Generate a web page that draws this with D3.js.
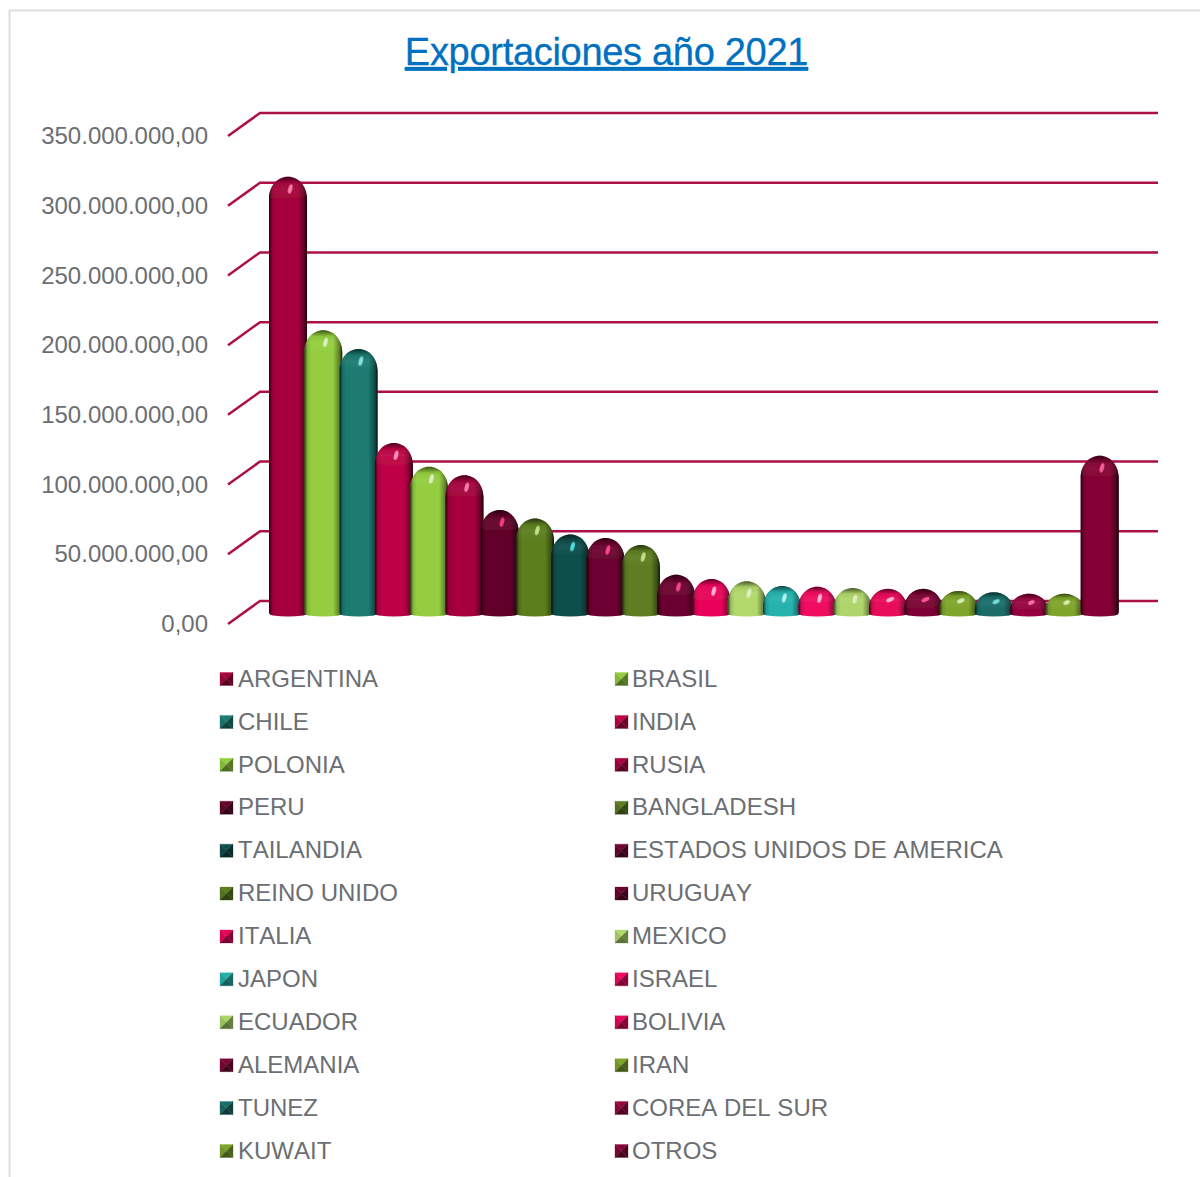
<!DOCTYPE html>
<html>
<head>
<meta charset="utf-8">
<script src="https://cdn.jsdelivr.net/npm/d3@7/dist/d3.min.js"></script>
<style>
    html, body { margin: 0; padding: 0; background: #fff; }
    svg { display: block; }
    text { font-family: "Liberation Sans", Arial, sans-serif; fill: #6b6e73; font-kerning: none; }
</style>
</head>
<body>
<svg id="chart" width="1200" height="1177"></svg>
<script>
var chartTitle = "Exportaciones año 2021";

var categories = ["ARGENTINA", "BRASIL", "CHILE", "INDIA", "POLONIA", "RUSIA", "PERU", "BANGLADESH",
    "TAILANDIA", "ESTADOS UNIDOS DE AMERICA", "REINO UNIDO", "URUGUAY", "ITALIA", "MEXICO", "JAPON",
    "ISRAEL", "ECUADOR", "BOLIVIA", "ALEMANIA", "IRAN", "TUNEZ", "COREA DEL SUR", "KUWAIT", "OTROS"];

var values = [315000000, 205000000, 191500000, 124000000, 107000000, 101000000, 76000000, 70000000,
    58500000, 56000000, 51000000, 29500000, 26500000, 25000000, 21500000, 21000000,
    20000000, 19500000, 19500000, 18000000, 17000000, 16000000, 16000000, 115000000];

var colors = ["#a5063c", "#94ce3f", "#1b7b72", "#be0646", "#94ce3f", "#a5053e", "#62042a", "#5c7e1f",
    "#0e4f4c", "#6d0530", "#5e7e20", "#6b0430", "#e8055a", "#b1d86b", "#25b2ad", "#f00a60",
    "#add56a", "#e80858", "#7b0635", "#7fa52c", "#1a6d68", "#96063f", "#7fa52c", "#850535"];

var yTicks = [0, 50000000, 100000000, 150000000, 200000000, 250000000, 300000000, 350000000];

var svg = d3.select("#chart");
var defs = svg.append("defs");

// frame of the screenshot
svg.append("path")
    .attr("d", "M9.5,1177V10.5H1200")
    .attr("fill", "none")
    .attr("stroke", "#dedede")
    .attr("stroke-width", 2);

// title
svg.append("text")
    .attr("x", 606.5)
    .attr("y", 65)
    .attr("text-anchor", "middle")
    .attr("text-decoration", "underline")
    .style("font-size", "38px")
    .style("fill", "#0070c0")
    .style("stroke", "#0070c0")
    .style("stroke-width", 0.3)
    .style("letter-spacing", "-0.3px")
    .text(chartTitle);

// Set up the scales. Front edge of the floor, back wall, and bar base are the same scale shifted
var yFront = d3.scaleLinear().domain([0, 350000000]).range([624, 136]);
var depth = {x: 32, y: -23};
var barDrop = 15;
var xBand = d3.scaleBand().domain(categories).range([269, 1116]).paddingInner(0).paddingOuter(0);
var barWidth = xBand.bandwidth() * 1.076;

var esLocale = d3.formatLocale({decimal: ",", thousands: ".", grouping: [3], currency: ["", ""]});
var yAxis = d3.axisLeft(yFront)
    .tickValues(yTicks)
    .tickSize(0)
    .tickPadding(0)
    .tickFormat(esLocale.format(",.2f"));

// y-axis labels
svg.append("g")
    .attr("class", "y axis")
    .attr("transform", "translate(208,0)")
    .call(yAxis)
    .call(function(g) { g.select(".domain").remove(); })
    .selectAll("text")
    .style("font-size", "24px")
    .style("font-family", '"Liberation Sans", Arial, sans-serif')
    .style("fill", "#6b6e73");

// gridlines: floor stub, then along the wall
svg.append("g")
    .selectAll("path")
    .data(yTicks)
    .enter().append("path")
    .attr("d", function(d) {
        var y = yFront(d);
        return "M228," + y + "L" + (228 + depth.x) + "," + (y + depth.y) + "H1158";
    })
    .attr("fill", "none")
    .attr("stroke", "#ad0f47")
    .attr("stroke-width", 2.5);

// gradients shared by all bars
var side = defs.append("linearGradient").attr("id", "sideShade");
side.append("stop").attr("offset", "0").attr("stop-color", "#000").attr("stop-opacity", 0.75);
side.append("stop").attr("offset", "0.08").attr("stop-color", "#000").attr("stop-opacity", 0.12);
side.append("stop").attr("offset", "0.18").attr("stop-color", "#000").attr("stop-opacity", 0);
side.append("stop").attr("offset", "0.76").attr("stop-color", "#000").attr("stop-opacity", 0);
side.append("stop").attr("offset", "0.93").attr("stop-color", "#000").attr("stop-opacity", 0.4);
side.append("stop").attr("offset", "1").attr("stop-color", "#000").attr("stop-opacity", 0.9);

var capShade = defs.append("linearGradient").attr("id", "capShade").attr("x1", 0).attr("x2", 0).attr("y1", 0).attr("y2", 1);
capShade.append("stop").attr("offset", "0").attr("stop-color", "#000").attr("stop-opacity", 0.6);
capShade.append("stop").attr("offset", "0.28").attr("stop-color", "#000").attr("stop-opacity", 0.05);
capShade.append("stop").attr("offset", "0.55").attr("stop-color", "#fff").attr("stop-opacity", 0.05);
capShade.append("stop").attr("offset", "1").attr("stop-color", "#fff").attr("stop-opacity", 0);

var soft = defs.append("filter").attr("id", "soft").attr("x", "-5%").attr("y", "-5%").attr("width", "110%").attr("height", "110%");
soft.append("feGaussianBlur").attr("stdDeviation", 0.5);
var softer = defs.append("filter").attr("id", "softer").attr("x", "-100%").attr("y", "-100%").attr("width", "300%").attr("height", "300%");
softer.append("feGaussianBlur").attr("stdDeviation", 0.7);

function capHeight(d) {
    return Math.min(22, (yFront(0) - yFront(d)) * 0.72);
}

function domePath(x, w, top, capH) {
    return "M" + x + "," + (top + capH) +
        "C" + x + "," + (top + capH * 0.42) + " " + (x + w * 0.22) + "," + top + " " + (x + w * 0.5) + "," + top +
        "C" + (x + w * 0.78) + "," + top + " " + (x + w) + "," + (top + capH * 0.42) + " " + (x + w) + "," + (top + capH);
}

function barPath(d, i) {
    var x = xBand(categories[i]);
    var base = yFront(0) + depth.y + barDrop;
    var top = yFront(d) + depth.y + barDrop;
    return domePath(x, barWidth, top, capHeight(d)) +
        "L" + (x + barWidth) + "," + (base - 4) +
        "Q" + (x + barWidth) + "," + (base - 1) + " " + (x + barWidth - 4) + "," + (base - 0.5) +
        "Q" + (x + barWidth / 2) + "," + (base + 1.5) + " " + (x + 4) + "," + (base - 0.5) +
        "Q" + x + "," + (base - 1) + " " + x + "," + (base - 4) + "Z";
}

// bars, each one drawn over the one before it
var bars = svg.append("g")
    .selectAll("g")
    .data(values)
    .enter().append("g")
    .attr("filter", "url(#soft)");

bars.append("path")
    .attr("d", barPath)
    .attr("fill", function(d, i) { return colors[i]; });

bars.append("path")
    .attr("d", barPath)
    .attr("fill", "url(#sideShade)");

bars.append("path")
    .attr("d", function(d, i) {
        var top = yFront(d) + depth.y + barDrop;
        return domePath(xBand(categories[i]), barWidth, top, capHeight(d)) + "Z";
    })
    .attr("fill", "url(#capShade)");

bars.append("ellipse")
    .attr("rx", 2)
    .attr("ry", function(d) { return capHeight(d) * 0.22; })
    .attr("transform", function(d, i) {
        var top = yFront(d) + depth.y + barDrop;
        var cx = xBand(categories[i]) + barWidth * 0.56;
        var angle = capHeight(d) < 20 ? 65 : 15;
        return "translate(" + cx + "," + (top + capHeight(d) * 0.55) + ") rotate(" + angle + ")";
    })
    .attr("fill", function(d, i) {
        var c = d3.hsl(colors[i]);
        c.l = Math.min(0.85, c.l + 0.4);
        return c.formatHex();
    })
    .attr("filter", "url(#softer)");

// legend in two columns
var legendRows = d3.scalePoint()
    .domain(d3.range(Math.ceil(categories.length / 2)))
    .range([679, 1151]);
var legendCols = [220, 615];
var swatch = 13;

var legend = svg.append("g")
    .selectAll("g")
    .data(categories)
    .enter().append("g")
    .attr("transform", function(d, i) {
        return "translate(" + legendCols[i % 2] + "," + legendRows(Math.floor(i / 2)) + ")";
    });

// bevelled swatch: four triangles meeting in the middle
var facets = [
    {pts: [[0, 0], [1, 0], [0.5, 0.5]], k: 0},
    {pts: [[0, 0], [0, 1], [0.5, 0.5]], k: 0.3},
    {pts: [[1, 0], [1, 1], [0.5, 0.5]], k: 1.5},
    {pts: [[0, 1], [1, 1], [0.5, 0.5]], k: 1.8}
];

facets.forEach(function(f) {
    legend.append("polygon")
        .attr("points", f.pts.map(function(p) {
            return (p[0] * swatch) + "," + (p[1] * swatch - swatch / 2);
        }).join(" "))
        .attr("fill", function(d, i) { return d3.color(colors[i]).darker(f.k).formatHex(); })
        .attr("stroke", function(d, i) { return d3.color(colors[i]).darker(f.k).formatHex(); })
        .attr("stroke-width", 0.3);
});

legend.append("text")
    .attr("x", function(d, i) { return i % 2 ? 17 : 18; })
    .attr("dy", "0.32em")
    .style("font-size", "24px")
    .text(function(d) { return d; });
</script>
</body>
</html>
